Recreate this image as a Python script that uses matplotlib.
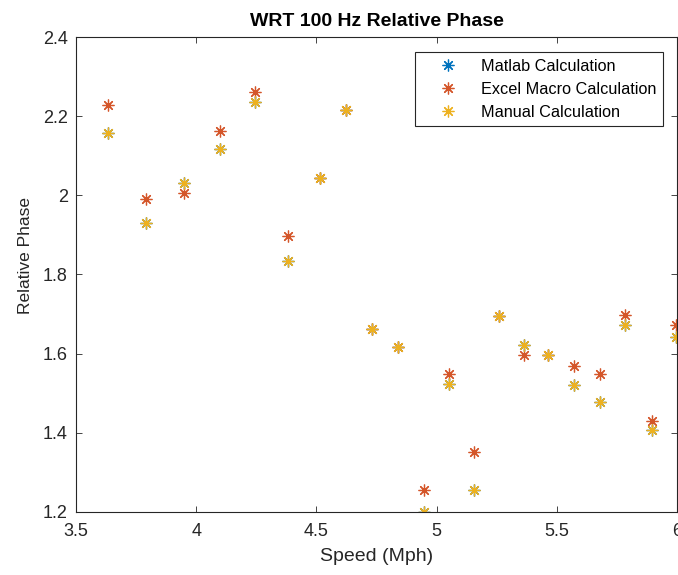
import matplotlib
matplotlib.use("Agg")
import matplotlib.pyplot as plt

plt.rcParams["font.family"] = ["Liberation Sans", "DejaVu Sans"]

# speed (mph) for each run
speed = [3.634, 3.793, 3.948, 4.100, 4.245, 4.382, 4.515, 4.625, 4.733, 4.839, 4.947,
         5.051, 5.154, 5.258, 5.362, 5.465, 5.572, 5.680, 5.783, 5.894, 5.995]

# relative phase wrt 100 Hz, per method
excel_phase = [2.228, 1.990, 2.005, 2.163, 2.262, 1.898, 2.043, 2.216, 1.662, 1.618, 1.256,
               1.548, 1.351, 1.695, 1.597, 1.597, 1.569, 1.548, 1.698, 1.430, 1.673]
manual_phase = [2.157, 1.931, 2.030, 2.116, 2.237, 1.835, 2.043, 2.216, 1.662, 1.618, 1.199,
                1.523, 1.256, 1.695, 1.622, 1.597, 1.521, 1.479, 1.673, 1.408, 1.643]
matlab_phase = manual_phase

fig = plt.figure(figsize=(6.78, 5.75), dpi=100)
ax = fig.add_axes([76 / 678, 63 / 575, 601 / 678, 475 / 575])

star = (8, 2, 0)
kw = dict(linestyle="none", marker=star, markersize=8.5, markeredgewidth=0.9)
ax.plot(speed, matlab_phase, color="#0072BD", label="Matlab Calculation", **kw)
ax.plot(speed, excel_phase, color="#D4562A", label="Excel Macro Calculation", **kw)
ax.plot(speed, manual_phase, color="#EDB120", label="Manual Calculation", **kw)

ax.set_xlim(3.5, 6)
ax.set_ylim(1.2, 2.4)
ax.set_xticks([3.5, 4, 4.5, 5, 5.5, 6])
ax.set_xticklabels(["3.5", "4", "4.5", "5", "5.5", "6"])
ax.set_yticks([1.2, 1.4, 1.6, 1.8, 2.0, 2.2, 2.4])
ax.set_yticklabels(["1.2", "1.4", "1.6", "1.8", "2", "2.2", "2.4"])
ax.tick_params(direction="in", top=True, right=True, length=4, width=0.6,
               labelsize=13, colors="#262626")
ax.tick_params(axis="x", pad=8)
ax.tick_params(axis="y", pad=6)
for s in ax.spines.values():
    s.set_linewidth(0.8)
    s.set_color("#262626")

ax.set_title("WRT 100 Hz Relative Phase", fontsize=14, fontweight="bold", pad=8)
ax.set_xlabel("Speed (Mph)", fontsize=14, color="#262626", labelpad=6)
ax.set_ylabel("Relative Phase", fontsize=12.5, color="#262626")
ax.yaxis.set_label_coords(-0.072, 0.54)

leg = ax.legend(loc="upper right", bbox_to_anchor=(0.977, 0.968), borderaxespad=0,
                fontsize=11.7, fancybox=False, framealpha=1, edgecolor="#262626",
                borderpad=0.4, labelspacing=0.5, handletextpad=0.4, handlelength=3.3)
leg.get_frame().set_linewidth(0.8)

fig.savefig("out.png", dpi=100)
